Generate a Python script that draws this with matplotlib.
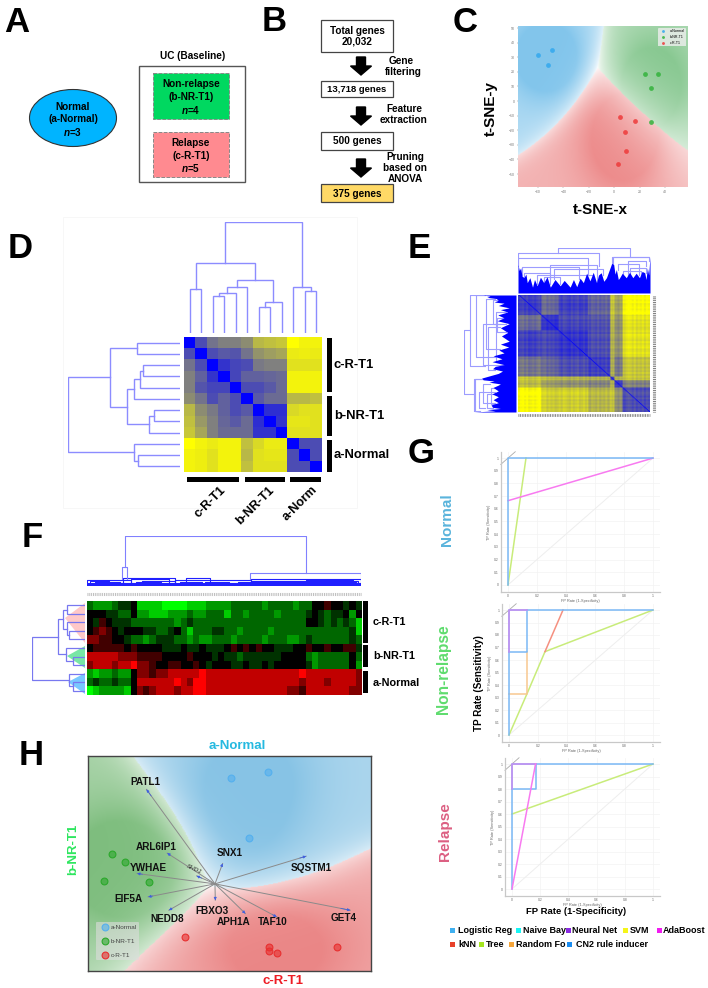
import numpy as np
import matplotlib
matplotlib.use('Agg')
import matplotlib.pyplot as plt
from matplotlib.colors import LinearSegmentedColormap, to_rgb, to_rgba
from matplotlib.patches import Ellipse, Rectangle, Polygon, FancyArrow

W, H = 708, 988
plt.rcParams['font.family'] = ['Liberation Sans', 'DejaVu Sans']
plt.rcParams['mathtext.fontset'] = 'custom'
plt.rcParams['mathtext.it'] = 'Liberation Sans:italic:bold'
plt.rcParams['mathtext.rm'] = 'Liberation Sans:bold'

# ---- data ----
# C: t-SNE scatter
TSNE_CLASSES = ['a-Normal', 'b-NR-T1', 'c-R-T1']
TSNE_COLORS = ['#33a8ee', '#33b33c', '#ee3a3a']
tsne_x = [[-59.8, -48.8, -52.0], [24.4, 34.6, 29.1, 29.1], [4.7, 16.5, 8.7, 9.4, 3.1]]
tsne_y = [[31.5, 34.9, 24.7], [18.5, 18.5, 8.9, -14.4], [-11.0, -13.7, -21.2, -34.2, -43.2]]

# D: sample distance matrix
dist_d = np.array([
    [0, .30, .45, .50, .50, .55, .72, .75, .78, 1.0, .95, .95],
    [.30, 0, .30, .35, .33, .45, .58, .62, .65, .92, .93, .92],
    [.45, .30, 0, .20, .27, .30, .48, .50, .50, .88, .88, .88],
    [.50, .38, .20, 0, .27, .38, .38, .40, .42, .95, .95, .95],
    [.50, .33, .27, .27, 0, .30, .30, .35, .42, .95, .95, .95],
    [.55, .45, .30, .38, .30, 0, .35, .42, .42, .72, .72, .75],
    [.72, .55, .48, .38, .30, .35, 0, .18, .18, .85, .88, .88],
    [.75, .60, .50, .40, .35, .42, .18, 0, .20, .90, .90, .88],
    [.78, .65, .50, .42, .42, .42, .20, .20, 0, .88, .88, .88],
    [1.0, .95, .92, .95, .95, .75, .85, .92, .92, 0, .30, .30],
    [.95, .93, .88, .95, .95, .72, .88, .90, .90, .30, 0, .30],
    [.95, .93, .88, .95, .95, .75, .88, .88, .88, .30, .30, 0]])
d_top_tree = [(0, 1, 132), (2, 3, 111), (13, 4, 120), (14, 5, 139), (6, 7, 79), (16, 8, 94),
              (15, 17, 159), (12, 18, 210), (10, 11, 126), (9, 20, 137), (19, 21, 333)]
d_left_tree = [(0, 1, 130), (2, 3, 110), (13, 4, 120), (14, 5, 139), (6, 7, 79), (16, 8, 92),
               (15, 17, 160), (12, 18, 209), (10, 11, 127), (9, 20, 137), (19, 21, 335)]

# E: gene distance blocks (gene order fraction, block means)
e_edges = [0, .18, .31, .53, .70, .73, .79, 1.0]
e_blocks = np.array([
    [.24, .42, .25, .38, .80, .62, .98],
    [.42, .20, .28, .32, .75, .55, .88],
    [.25, .28, .20, .30, .72, .55, .88],
    [.45, .40, .30, .24, .70, .45, .76],
    [.80, .75, .72, .70, .32, .70, .78],
    [.72, .60, .55, .50, .70, .22, .50],
    [.98, .80, .80, .70, .78, .55, .30]])
e_stripes = [-.03, .02, .04, -.02, .03, -.04, -.02, .01, -.03, .02, .05, -.01, .03, .04, -.03, .02, -.02,
             .01, -.04, -.02, .02, -.03, .04, .02, -.01, -.04, .03, -.02, .01, .04, -.03, -.01, .03,
             -.02, .02, -.04, .03, .01, -.02, .04, -.03, .02, -.01, .05, -.02, .03, -.04, .01, .02,
             -.03, .04, -.01, -.03, .02, .05, .03, -.02, .04, -.03, .01, -.02, .03, -.04, .02, -.01]
e_fill_x = [0, .01, .02, .03, .045, .06, .07, .09, .11, .125, .145, .17, .195, .22, .245, .28, .32,
            .35, .395, .42, .445, .47, .495, .52, .545, .57, .595, .61, .63, .65, .67, .69, .71,
            .725, .735, .745, .76, .77, .79, .82, .845, .87, .895, .92, .94, .96, .97, .98, .99, 1]
e_fill_h = [.63, .50, .56, .38, .34, .42, .23, .34, .13, .30, .16, .35, .23, .36, .13, .30, .16,
            .28, .13, .30, .14, .33, .23, .44, .27, .46, .23, .40, .45, .26, .34, .50, .66,
            .63, .42, .52, .30, .34, .44, .34, .46, .34, .44, .34, .48, .45, .30, .56, .40, .81]
e_brackets = [(.30, .85, 1.0, .88, .81), (0, .61, .88, .6, .6), (.715, 1, .81, .6, .7), (0, .53, .77, .6, .4),
              (.245, .595, .63, .3, .25), (.03, .46, .58, .4, .3), (.27, .645, .54, .3, .4),
              (.045, .245, .45, .3, .2), (.145, .57, .39, .2, .25), (.195, .32, .36, .2, .2),
              (.72, .995, .79, .6, .7), (.83, .97, .72, .4, .6), (.76, .92, .64, .5, .4),
              (.845, .97, .56, .35, .45), (.795, .93, .485, .35, .35)]

# F: expression heatmap, 0 bright green, 5 black, 9 bright red
f_rows = [
    '3222344511110000111222' + '2333332333323355655454',
    '5554433522111222322333' + '1332333323333454344525',
    '5465444333333323433333' + '3333333333333554343431',
    '5676545554433453133344' + '3323333233333333333341',
    '7766554332344433232233' + '3233332333223433333343',
    '5666665655554445445444' + '5656565544455655655664',
    '8888877766665555655545' + '4434444445555323333353',
    '7888788977655665565455' + '5445445455555423333352',
    '2122322577677888889888' + '8888888888889888888887',
    '3433433588888898799888' + '8888888888887888788887',
    '0122221576788878899888' + '8888888888776888888877']
f_left_tree = [(0, 1, 53), (3, 4, 47), (2, 12, 55), (11, 13, 65), (6, 7, 37), (5, 15, 56),
               (14, 16, 80), (9, 10, 35), (8, 18, 47), (17, 19, 158)]
f_main_brackets = [(.137, .80, 1.0, .376, .268), (.128, .146, .376, .15, .15), (.596, 1, .268, .15, .12)]
f_band_brackets = [(0, .16, .13), (.03, .12, .09), (.01, .08, .11), (.06, .14, .07), (.13, .32, .17), (.16, .30, .14),
                   (.20, .32, .11), (.18, .27, .08), (.32, .60, .12), (.36, .45, .16), (.34, .42, .09), (.43, .52, .09),
                   (.60, 1, .15), (.60, .94, .11), (.66, .98, .08), (.80, .97, .13), (.45, .70, .07),
                   (.70, .90, .06), (.05, .25, .07), (.25, .42, .05), (.55, .75, .09), (.85, .99, .10),
                   (.92, 1, .07), (.74, .86, .08)]

# G: ROC curves, (colour, fp rate, tp rate)
CLR_LINE = {'blue': '#7ab8f5', 'tree': '#c8ec7a', 'mag': '#f87af0', 'pur': '#c88cf0',
            'org': '#f8c890', 'knn': '#f59080'}
roc_normal = [('tree', [0, .124], [0, 1]), ('mag', [0, 1], [.664, 1]), ('blue', [0, 0, 1], [0, 1, 1])]
roc_nonrel = [('tree', [0, .125, .25, 1], [0, .33, .667, 1]), ('knn', [.25, .375], [.667, 1]),
              ('org', [0, .125, .125], [.33, .33, .665]), ('blue', [0, .125, .125], [.665, .665, 1]),
              ('blue', [0, 0, 1], [0, 1, 1]), ('pur', [0, 0, .125], [.665, 1, 1])]
roc_relapse = [('tree', [0, 1], [.6, 1]), ('blue', [0, .167, .167], [.8, .8, 1]),
               ('blue', [0, 0, 1], [0, 1, 1]), ('pur', [0, 0, .167], [.8, 1, 1]),
               ('mag', [0, .167], [0, 1])]
iso_x, iso_y = [-.05, .05], [.95, 1.05]

ROC_LEG_ROW1 = ['Logistic Reg', 'Naive Bay', 'Neural Net', 'SVM', 'AdaBoost']
ROC_LEG_ROW2 = ['kNN', 'Tree', 'Random Fo', 'CN2 rule inducer']
ROC_CLR_ROW1 = ['#3fb0f0', '#19f5f5', '#8a2be2', '#f5f519', '#f01cf0']
ROC_CLR_ROW2 = ['#e8412a', '#a5e620', '#f5a53a', '#1a8cf0']

# H: biplot
bi_x = [[.47, 1.60, 1.03], [-3.08, -2.68, -3.31, -1.97], [-.89, 1.61, 1.63, 1.87, 3.66]]
bi_y = [[3.16, 3.36, 1.37], [.89, .64, .09, .05], [-1.60, -1.89, -2.02, -2.07, -1.89]]
gene_names = ['PATL1', 'ARL6IP1', 'YWHAE', 'EIF5A', 'NEDD8', 'SNX1', 'SQSTM1', 'GET4', 'TAF10', 'APH1A', 'FBXO3']
gene_vx = [-2.05, -1.43, -2.33, -2.00, -1.38, .23, 2.73, 4.05, 1.85, .91, .01]
gene_vy = [2.83, .92, .31, -.39, -.79, .61, .83, -.79, -.99, -.89, -.49]
gene_tx = [-2.07, -1.75, -1.99, -2.59, -1.42, .43, 2.87, 3.86, 1.74, .57, -.09]
gene_ty = [3.06, 1.11, .48, -.45, -1.04, .93, .49, -1.01, -1.14, -1.14, -.80]

# ---- helpers ----
fig = plt.figure(figsize=(W / 100, H / 100), dpi=100, facecolor='white')


def px_ax(x0, y0, x1, y1):
    return fig.add_axes([x0 / W, 1 - y1 / H, (x1 - x0) / W, (y1 - y0) / H])


def draw_tree(ax, tree, n, orient, color='#8c8cff', lw=1.0):
    pos = {i: (float(i), 0.0) for i in range(n)}
    for k, (a, b, h) in enumerate(tree):
        pa, ha = pos[a]
        pb, hb = pos[b]
        xs, ys = [pa, pa, pb, pb], [ha, h, h, hb]
        if orient == 'top':
            ax.plot(xs, ys, color=color, lw=lw, solid_joinstyle='miter')
        else:
            ax.plot(ys, xs, color=color, lw=lw, solid_joinstyle='miter')
        pos[n + k] = ((pa + pb) / 2, h)
    ax.axis('off')


def density_image(ax, xs, ys, colors, bws, amax, gamma, floor, xlim, ylim):
    # class density background from the points, one bandwidth per class
    gx, gy = np.meshgrid(np.linspace(*xlim, 240), np.linspace(*ylim, 240))
    scores = []
    for px_, py_, bw in zip(xs, ys, bws):
        s = 0
        for a, b in zip(px_, py_):
            s = s + np.exp(-((gx - a) ** 2 + (gy - b) ** 2) / (2 * bw ** 2))
        scores.append(s / len(px_) + 1e-30)
    scores = np.array(scores)
    p = scores / scores.sum(axis=0)
    idx = p.argmax(axis=0)
    near = np.clip(scores.max(axis=0) * 2.2, 0, 1)
    alpha = amax * np.clip((p.max(axis=0) - 1 / 3) * 1.5, 0, 1) ** gamma * (floor + (1 - floor) * near)
    cols = np.array([to_rgb(c) for c in colors])[idx]
    img = 1 - (1 - cols) * alpha[..., None]
    ax.imshow(img, extent=[*xlim, *ylim], origin='lower', aspect='auto', zorder=0, interpolation='bilinear')


# layout layer, pixel units
lay = fig.add_axes([0, 0, 1, 1])
lay.set_xlim(0, W)
lay.set_ylim(H, 0)
lay.axis('off')


def txt(x, y, s, size=7.2, ha='center', va='center', color='k', rot=0, weight='bold'):
    lay.text(x, y, s, fontsize=size, ha=ha, va=va, color=color, rotation=rot, weight=weight)


def box(x0, y0, x1, y1, fc='white', ec='#444444', lw=1.0, ls='-'):
    lay.add_patch(Rectangle((x0, y0), x1 - x0, y1 - y0, fc=fc, ec=ec, lw=lw, ls=ls))


for letter, lx, base in [('A', 17, 32), ('B', 274, 31), ('C', 465, 32), ('D', 20, 258), ('E', 419, 258),
                         ('F', 32, 547), ('G', 421, 463), ('H', 31, 765)]:
    txt(lx, base, letter, size=25, va='baseline')

# ---- A ----
lay.add_patch(Ellipse((73, 118), 87, 57, fc='#00b4ff', ec='#333333', lw=0.8))
for yy, s in [(107, 'Normal'), (119, '(a-Normal)'), (132, r'$\mathit{n}$=3')]:
    txt(73, yy, s)
txt(193, 56, 'UC (Baseline)')
box(139, 66, 245, 182, ec='#555555')
box(153, 73, 229, 119, fc='#00d860', ec='#888888', lw=.7, ls='--')
box(153, 132, 229, 177, fc='#ff8a90', ec='#888888', lw=.7, ls='--')
for yy, s in [(84, 'Non-relapse'), (97, '(b-NR-T1)'), (110, r'$\mathit{n}$=4'),
              (143, 'Relapse'), (156, '(c-R-T1)'), (168, r'$\mathit{n}$=5')]:
    txt(191, yy, s)

# ---- B ----
box(321, 20, 393, 52, lw=.9)
txt(357, 31, 'Total genes')
txt(357, 42, '20,032')
box(321, 81, 393, 97, lw=.9)
txt(357, 90, '13,718 genes', size=6.8)
box(321, 132, 393, 150, lw=.9)
txt(357, 141, '500 genes')
box(321, 184, 393, 202, fc='#ffd966', lw=.9)
txt(357, 194, '375 genes')
for y0 in [57, 107, 159]:
    lay.add_patch(FancyArrow(361, y0, 0, 18, width=9, head_width=21, head_length=9,
                             length_includes_head=True, color='k'))
for xx, yy, s in [(401, 61, 'Gene'), (403, 72, 'filtering'), (404, 109, 'Feature'), (404, 120, 'extraction'),
                  (405, 157, 'Pruning'), (405, 168, 'based on'), (405, 179, 'ANOVA')]:
    txt(xx, yy, s)

# ---- C ----
ax = px_ax(518, 26, 688, 187)
xl, yl = (-75.7, 58.0), (-58.9, 51.4)
density_image(ax, tsne_x, tsne_y, ['#2f9fdf', '#2f9f3f', '#e03a3a'], [19, 21, 23], .6, .55, .65, xl, yl)
for px_, py_, c, lab in zip(tsne_x, tsne_y, TSNE_COLORS, TSNE_CLASSES):
    ax.scatter(px_, py_, s=12, color=c, alpha=.85, lw=0, label=lab, zorder=3)
ax.set_xlim(*xl)
ax.set_ylim(*yl)
ax.set_xticks([-60, -40, -20, 0, 20, 40])
ax.set_yticks(np.arange(-50, 51, 10))
ax.tick_params(labelsize=2.5, length=1, width=.3, colors='#777777', pad=1)
for s in ax.spines.values():
    s.set_visible(False)
ax.legend(loc='upper right', fontsize=2.6, frameon=True, facecolor='#eeeeee', edgecolor='none', markerscale=.6)
txt(491, 108, 't-SNE-y', size=11, rot=90)
txt(600, 210, 't-SNE-x', size=11)

# ---- D ----
blue_yellow = LinearSegmentedColormap.from_list('by', ['#0000ff', '#ffff00'])
lay.add_patch(Rectangle((63, 217), 294, 291, fc='none', ec='#f6f6f6', lw=.6))
ax = px_ax(184, 337, 322, 472)
ax.imshow(dist_d, cmap=blue_yellow, vmin=0, vmax=1, aspect='auto', interpolation='nearest')
ax.axis('off')
ax = px_ax(184, 222, 322, 333)
draw_tree(ax, d_top_tree, 12, 'top')
ax.set_xlim(-.5, 11.5)
ax.set_ylim(0, 333)
ax = px_ax(68, 337, 180, 472)
draw_tree(ax, d_left_tree, 12, 'left')
ax.set_xlim(336, 0)
ax.set_ylim(11.5, -.5)
for y0, y1, s in [(338, 392, 'c-R-T1'), (396, 436, 'b-NR-T1'), (440, 472, 'a-Normal')]:
    box(327, y0, 331.5, y1, fc='k', ec='k', lw=0)
    txt(334, (y0 + y1) / 2 - (1 if y0 > 400 else 0), s, size=9.4, ha='left')
for x0, x1 in [(187, 239), (245, 285), (290, 321)]:
    box(x0, 477, x1, 482, fc='k', ec='k', lw=0)
for xx, s in [(220, 'c-R-T1'), (268, 'b-NR-T1'), (311, 'a-Norm')]:
    lay.text(xx, 484, s, fontsize=9, weight='bold', rotation=45, ha='right', va='top', rotation_mode='anchor')

# ---- E ----
n_bins = 130
order = (np.arange(n_bins) + .5) / n_bins
grp = np.searchsorted(e_edges, order) - 1
stripe = np.repeat(e_stripes, 2)
mat_e = e_blocks[np.ix_(grp, grp)] + stripe[:, None] + stripe[None, :]
np.fill_diagonal(mat_e, 0)
ax = px_ax(518, 295, 650, 412)
ax.imshow(np.clip(mat_e, 0, 1), cmap=blue_yellow, vmin=0, vmax=1, aspect='auto', interpolation='bilinear')
ax.axis('off')
ax = px_ax(518, 248, 650, 293)
ax.fill_between(e_fill_x, 0, e_fill_h, color='#0000ff', lw=0, zorder=2)
for a, b, h, dl, dr in e_brackets:
    ax.plot([a, a, b, b], [dl, h, h, dr], color='#9c9cff', lw=.8, zorder=1)
ax.set_xlim(0, 1)
ax.set_ylim(0, 1)
ax.axis('off')
ax = px_ax(464, 295, 516, 412)
ax.fill_betweenx(e_fill_x, 0, e_fill_h, color='#0000ff', lw=0, zorder=2)
for a, b, h, dl, dr in e_brackets:
    ax.plot([dl, h, h, dr], [a, a, b, b], color='#9c9cff', lw=.8, zorder=1)
ax.set_xlim(1, 0)
ax.set_ylim(1, 0)
ax.axis('off')
lay.plot([653.5, 653.5], [296, 412], color='#777777', lw=2.2, ls=(0, (.3, .3)))
lay.plot([518, 650], [415, 415], color='#777777', lw=2.0, ls=(0, (.3, .3)))

# ---- F ----
lay.add_patch(Polygon([(65, 618), (85, 603), (85, 643)], fc='#ffc8c8', ec='none'))
lay.add_patch(Polygon([(67, 656), (85, 646), (85, 668)], fc='#78e6a5', ec='none'))
lay.add_patch(Polygon([(68, 682), (85, 673), (85, 694)], fc='#78c8ff', ec='none'))
red_green = LinearSegmentedColormap.from_list('rg', ['#00ff00', '#000000', '#ff0000'])
vals_f = np.array([[(int(c) - 5) / (5 if int(c) < 5 else 4) for c in r] for r in f_rows])
ax = px_ax(87, 601, 361, 695)
ax.imshow(vals_f, cmap=red_green, vmin=-1, vmax=1, aspect='auto', interpolation='nearest')
ax.axis('off')
ax = px_ax(87, 536, 361, 586)
ax.fill_between([0, 1], 0, .06, color='#2020ff', lw=0)
for a, b, h in f_band_brackets:
    ax.plot([a, a, b, b], [0, h, h, 0], color='#2020ff', lw=.8)
for a, b, h, dl, dr in f_main_brackets:
    ax.plot([a, a, b, b], [dl, h, h, dr], color='#8080ff', lw=.8)
ax.set_xlim(0, 1)
ax.set_ylim(0, 1)
ax.axis('off')
ax = px_ax(32, 601, 85, 695)
draw_tree(ax, f_left_tree, 11, 'left', color='#7878f0', lw=.9)
ax.set_xlim(159, 0)
ax.set_ylim(10.5, -.5)
lay.plot([87, 361], [594, 594], color='#bbbbbb', lw=2.2, ls=(0, (.3, .3)))
for y0, y1, s in [(601, 643, 'c-R-T1'), (645, 667, 'b-NR-T1'), (671, 693, 'a-Normal')]:
    box(363, y0, 368, y1, fc='k', ec='k', lw=0)
    txt(373, (y0 + y1) / 2 + (.5 if y0 > 660 else 0), s, size=7.8, ha='left')

# ---- G ----
for (y_top, y_bot, x_left, x_zero, curves, tiny_y) in [
        (452, 592, 500.7, 508, roc_normal, 489), (604, 742, 502, 509, roc_nonrel, 490),
        (758, 896, 505, 512, roc_relapse, 493)]:
    ax = px_ax(x_left, y_top, 660, y_bot)
    xspan = 653 - x_zero
    ax.set_xlim((x_left - x_zero) / xspan, (660 - x_zero) / xspan)
    ax.set_ylim(-7 / 125, 1 + 6 / 125)
    ax.grid(color='#f3f3f3', lw=.5)
    ax.set_axisbelow(True)
    ax.plot([0, 1], [0, 1], color='#eeeeee', lw=.7)
    ax.plot(iso_x, iso_y, color='#aaaaaa', lw=.6, clip_on=False)
    for clr, fp, tp in curves:
        ax.plot(fp, tp, color=CLR_LINE[clr], lw=1.1)
    ax.set_xticks(np.arange(0, 1.01, .2))
    ax.set_yticks(np.arange(0, 1.01, .1))
    ax.set_xticklabels(['0', '0.2', '0.4', '0.6', '0.8', '1'])
    ax.set_yticklabels(['0', '0.1', '0.2', '0.3', '0.4', '0.5', '0.6', '0.7', '0.8', '0.9', '1'])
    ax.tick_params(labelsize=2.4, length=0, colors='#666666', pad=1.5)
    for s in ['top', 'right']:
        ax.spines[s].set_visible(False)
    for s in ['left', 'bottom']:
        ax.spines[s].set_color('#c8c8c8')
        ax.spines[s].set_linewidth(.9)
    ax.set_xlabel('FP Rate (1-Specificity)', fontsize=2.8, color='#666666', labelpad=.5)
    txt(tiny_y, (y_top + y_bot) / 2, 'TP Rate (Sensitivity)', size=2.8, rot=90, color='#666666', weight='normal')
txt(447, 520, 'Normal', size=11, rot=90, color='#5ab4dc')
txt(443, 669, 'Non-relapse', size=11.2, rot=90, color='#5fdc6e')
txt(445, 832, 'Relapse', size=11, rot=90, color='#dc5f82')
txt(479, 683, 'TP Rate (Sensitivity)', size=7.1, rot=90)
txt(576, 911, 'FP Rate (1-Specificity)', size=6.8)
for labels, clrs, xs_sq, xs_txt, yy in [
        (ROC_LEG_ROW1, ROC_CLR_ROW1, [450, 516, 566, 623, 657], [458, 523, 572, 630, 663], 930),
        (ROC_LEG_ROW2, ROC_CLR_ROW2, [450, 479, 509, 567], [458, 486, 516, 576], 944)]:
    for lab, c, xa, xb in zip(labels, clrs, xs_sq, xs_txt):
        box(xa, yy - 2.5, xa + 5, yy + 2.5, fc=c, ec=c, lw=0)
        txt(xb, yy, lab, size=6.5, ha='left')

# ---- H ----
ax = px_ax(88, 756, 371, 971)
xl, yl = (-3.8, 4.67), (-2.61, 3.83)
density_image(ax, bi_x, bi_y, ['#4aa5d8', '#3c9c3c', '#e04848'], [1.25, 1.2, 1.2], .66, .55, .7, xl, yl)
pt_face = ['#55b0ee', '#2ca82c', '#e83030']
for px_, py_, c, lab in zip(bi_x, bi_y, pt_face, TSNE_CLASSES):
    ax.scatter(px_, py_, s=24, facecolor=to_rgba(c, .6), edgecolor=c, lw=.8, label=lab, zorder=4)
for vx, vy in zip(gene_vx, gene_vy):
    ax.plot([0, vx], [0, vy], color='#8a8a8a', lw=.7, zorder=2)
    ax.annotate('', xy=(vx, vy), xytext=(vx * .93, vy * .93),
                arrowprops=dict(arrowstyle='-|>', color='#3f5fe0', lw=.5, mutation_scale=4, shrinkA=0, shrinkB=0),
                zorder=3)
ax.plot([0, -.55], [0, .24], color='#8a8a8a', lw=.7, zorder=2)
ax.annotate('', xy=(-.55, .24), xytext=(-.4, .17),
            arrowprops=dict(arrowstyle='-|>', color='#3f5fe0', lw=.5, mutation_scale=4, shrinkA=0, shrinkB=0))
ax.text(-.64, .44, 'SHD1', fontsize=4.5, rotation=-25, ha='center', va='center', style='italic', color='#333333')
for nm, tx, ty in zip(gene_names, gene_tx, gene_ty):
    ax.text(tx, ty, nm, fontsize=7.2, weight='bold', ha='center', va='center', color='#111111', zorder=5)
ax.set_xlim(*xl)
ax.set_ylim(*yl)
ax.set_xticks([])
ax.set_yticks([])
for s in ax.spines.values():
    s.set_color('#444444')
    s.set_linewidth(1.0)
ax.legend(loc='lower left', bbox_to_anchor=(.028, .05), borderaxespad=0, fontsize=4.6, labelspacing=1.3,
          frameon=True, facecolor='#dddddd', edgecolor='none', framealpha=.6, handletextpad=-.1, labelcolor='#444444')
txt(237, 746, 'a-Normal', size=9.5, color='#25b9e0')
txt(283, 981, 'c-R-T1', size=9.5, color='#ee1c24')
txt(73, 849, 'b-NR-T1', size=9.5, rot=90, color='#2ee65f')

fig.savefig('out.png', dpi=100)
